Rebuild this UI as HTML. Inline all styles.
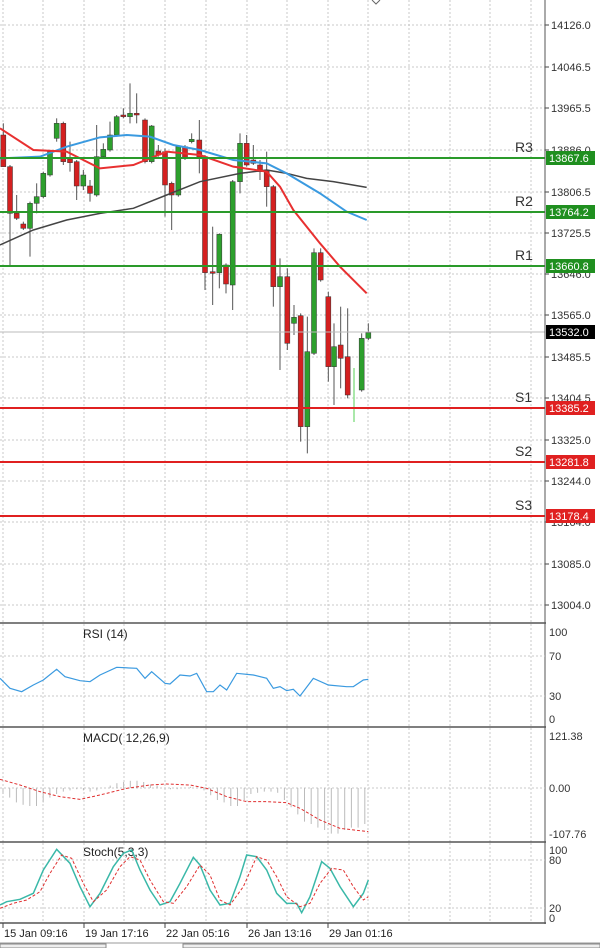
<!DOCTYPE html>
<html><head><meta charset="utf-8"><style>
body{margin:0;background:#fff;width:600px;height:948px;overflow:hidden;font-family:"Liberation Sans",sans-serif}
svg{display:block}
</style></head><body>
<svg id="s" width="600" height="948" xmlns="http://www.w3.org/2000/svg" font-family="Liberation Sans, sans-serif">
</svg>
<script>
const s=document.getElementById('s');let h='';
const L=(x1,y1,x2,y2,c,w,d)=>h+=`<line x1="${x1}" y1="${y1}" x2="${x2}" y2="${y2}" stroke="${c}" stroke-width="${w||1}" ${d?`stroke-dasharray="${d}"`:''}/>`;
const T=(x,y,t,sz,c,a)=>h+=`<text x="${x}" y="${y}" font-size="${sz}" fill="${c||'#222'}" ${a?`text-anchor="${a}"`:''}>${t}</text>`;
// vertical grid
const vx=[3,43,84,124,165,206,247,287,328,368,409,450,490,531];
[[0,623],[624,727],[728,842],[843,923]].forEach(([a,b])=>vx.forEach(x=>L(x,a,x,b,'#c8c8c8',1,'2,2')));
// main horizontal grid
const pl=[[25,'14126.0'],[67,'14046.5'],[108,'13965.5'],[150,'13886.0'],[192,'13806.5'],[233,'13725.5'],[274,'13646.0'],[315,'13565.0'],[357,'13485.5'],[398,'13404.5'],[440,'13325.0'],[481,'13244.0'],[522,'13164.0'],[564,'13085.0'],[605,'13004.0']];
pl.forEach(([y,t])=>{L(0,y,545,y,'#c8c8c8',1,'2,2');L(545,y,549,y,'#444');T(551,y+4,t,11,'#333')});
// candles
const C=[[10,165,260,1,130,260],[30,260,400,1,255,560],[50,400,415,1,345,420],[70,432,445,1,425,450],[90,445,370,0,365,530],[110,370,350,0,310,400],[130,350,280,0,275,355],[150,285,215,0,210,290],[170,175,130,0,115,185],[190,130,245,1,125,255],[210,237,248,1,185,275],[230,245,318,1,240,360],[250,318,285,0,270,330],[270,318,340,1,300,365],[290,345,230,0,135,350],[310,230,208,0,190,235],[330,210,165,0,125,215],[350,165,110,0,105,170],[370,105,110,1,85,115],[390,110,100,0,10,130],[410,100,105,1,40,130],[435,120,245,1,115,250],[455,245,138,0,135,250],[475,213,225,1,195,230],[495,215,315,1,205,410],[515,310,345,1,305,450],[535,345,200,0,195,350],[555,200,235,1,195,240],[575,185,178,0,160,190],[598,180,235,1,120,280],[615,230,578,1,225,630],[638,575,580,1,440,675],[658,578,463,0,460,625],[678,555,612,1,550,640],[698,615,305,0,300,690],[720,305,190,0,160,340],[740,190,255,1,165,260],[760,240,250,1,195,255],[780,255,275,1,240,300],[800,270,320,1,215,380],[820,320,620,1,315,680],[840,620,590,0,535,870],[862,590,790,1,565,810],[882,730,712,0,675,765],[902,707,1040,1,700,1085],[922,1040,815,0,710,1120],[942,820,518,0,505,825],[962,518,600,1,505,605],[985,650,860,1,635,905],[1002,860,800,0,730,975],[1022,795,835,1,680,925],[1043,830,945,1,685,955],[1085,930,775,0,760,935],[1105,775,758,0,730,780]];
C.forEach(([zx,o,c,r,hi,lo])=>{const x=zx/3,y1=80+Math.min(o,c)/3,y2=80+Math.max(o,c)/3;L(x,80+hi/3,x,80+lo/3,'#555');h+=`<rect x="${x-2.5}" y="${y1}" width="5" height="${Math.max(1.5,y2-y1)}" fill="${r?'#d42020':'#2da02d'}" stroke="#333" stroke-width="0.5"/>`});
L(354,368,354,422,'#8ee08e',1.5);
const P=(pts,c,w)=>h+=`<polyline fill="none" stroke="${c}" stroke-width="${w}" points="${pts.map(([a,b])=>(a/3)+','+(80+b/3)).join(' ')}"/>`;
P([[0,495],[100,450],[200,420],[300,400],[400,385],[500,345],[600,305],[720,280],[800,270],[860,280],[920,295],[1000,305],[1100,322]],'#444',1.5);
P([[0,235],[120,230],[200,200],[300,172],[380,165],[450,170],[520,195],[600,210],[700,240],[800,250],[860,280],[960,340],[1040,395],[1100,420]],'#3a9ae0',2);
P([[0,145],[100,210],[200,215],[300,265],[400,255],[450,235],[500,215],[600,225],[700,260],[800,275],[840,320],[880,390],[960,490],[1020,560],[1100,640]],'#e83030',2);
// levels
[[158,'R3','13867.6'],[212,'R2','13764.2'],[266,'R1','13660.8']].forEach(([y,n,v])=>{L(0,y,545,y,'#2a9a2a',2);T(515,y-6,n,14,'#333');h+=`<rect x="546" y="${y-7}" width="49" height="14" fill="#1f8f1f"/>`;T(549,y+4,v,11,'#fff')});
L(0,332,545,332,'#bbb',1);h+=`<rect x="546" y="325" width="49" height="14" fill="#000"/>`;T(549,336,'13532.0',11,'#fff');
[[408,'S1','13385.2'],[462,'S2','13281.8'],[516,'S3','13178.4']].forEach(([y,n,v])=>{L(0,y,545,y,'#e02020',2);T(515,y-6,n,14,'#333');h+=`<rect x="546" y="${y-7}" width="49" height="14" fill="#e02020"/>`;T(549,y+4,v,11,'#fff')});
// panel borders
[623,727,842,923].forEach(y=>L(0,y,546,y,'#555',1.5));
L(545,0,545,924,'#555',1);
// RSI
[[656,'70'],[696,'30']].forEach(([y,t])=>L(0,y,545,y,'#c8c8c8',1,'2,2'));
T(549,636,'100',11,'#333');T(549,660,'70',11,'#333');T(549,700,'30',11,'#333');T(549,723,'0',11,'#333');
T(83,638,'RSI (14)',12,'#222');
const Q=(pts,c,w,d,oy)=>h+=`<polyline fill="none" stroke="${c}" stroke-width="${w}" ${d?`stroke-dasharray="${d}"`:''} points="${pts.map(([a,b])=>(a/3)+','+(oy+b/3)).join(' ')}"/>`;
Q([[0,175],[30,205],[65,215],[100,195],[130,180],[170,148],[195,170],[240,182],[270,185],[300,165],[350,142],[410,145],[435,175],[455,155],[495,190],[510,192],[540,165],[570,168],[590,160],[620,215],[640,215],[660,195],[680,210],[710,160],[760,165],[800,175],[820,205],[840,200],[860,212],[880,208],[900,228],[940,175],[985,195],[1040,200],[1060,200],[1090,180],[1105,178]],'#3a9ae0',1.2,null,620);
// MACD
L(0,788,545,788,'#c8c8c8',1,'2,2');
T(549,740,'121.38',11,'#333');T(549,792,'0.00',11,'#333');T(549,838,'-107.76',11,'#333');
T(83,742,'MACD( 12,26,9)',12,'#222');
const mh=[-5,-8,-12,-14,-15,-15,-12,-8,-5,-3,-2,-1,-2,-3,-2,0,2,4,5,6,6,5,3,2,0,-1,-1,0,1,0,-2,-6,-10,-12,-15,-15,-10,-5,-4,-3,-3,-4,-10,-16,-22,-28,-30,-33,-35,-38,-38,-35,-33,-33,-30];
mh.forEach((v,i)=>{const x=3+i*6.7;L(x,788,x,788-v*1.2,'#bbb',1)});
Q([[0,478],[60,495],[120,515],[180,530],[240,538],[300,525],[380,505],[450,495],[500,492],[570,495],[620,505],[680,530],[740,545],[800,545],[860,548],[900,565],[960,600],[1020,625],[1105,635]],'#e03030',1,'3,2',620);
// Stoch
L(0,860,545,860,'#c8c8c8',1,'2,2');L(0,908,545,908,'#c8c8c8',1,'2,2');
T(549,854,'100',11,'#333');T(549,864,'80',11,'#333');T(549,912,'20',11,'#333');T(549,922,'0',11,'#333');
T(83,856,'Stoch(5,3,3)',12,'#222');
Q([[0,855],[20,845],[60,838],[100,820],[130,750],[170,688],[210,730],[240,800],[270,860],[300,820],[340,740],[370,700],[395,690],[420,750],[450,810],[480,855],[510,845],[540,790],[580,712],[600,735],[630,810],[660,855],[690,850],[720,770],[740,705],[770,710],[800,750],[830,820],[860,850],[890,850],[905,878],[930,830],[965,725],[990,745],[1020,800],[1060,860],[1090,820],[1105,780]],'#3ab8a8',1.5,null,620);
Q([[0,865],[40,850],[80,840],[120,815],[150,760],[185,705],[215,715],[250,790],[280,845],[320,810],[360,740],[390,710],[420,720],[450,780],[490,845],[520,850],[560,800],[600,735],[630,765],[660,840],[690,855],[730,800],[770,710],[800,720],[830,770],[860,830],[900,860],[930,850],[960,790],[995,745],[1030,750],[1060,800],[1090,840],[1105,830]],'#e03030',1,'3,2',620);
// time axis
[[3,'15 Jan 09:16'],[84,'19 Jan 17:16'],[165,'22 Jan 05:16'],[247,'26 Jan 13:16'],[328,'29 Jan 01:16']].forEach(([x,t])=>{L(x,923,x,928,'#444');T(x+1,937,t,11,'#222')});
L(0,943,600,943,'#999',1);
h+=`<rect x="0" y="944" width="106" height="4" fill="#eee" stroke="#888" stroke-width="1"/><rect x="183" y="944" width="417" height="4" fill="#eee" stroke="#888" stroke-width="1"/>`;
h+=`<path d="M372,0 L376,4 L380,0" fill="none" stroke="#666"/>`;
s.innerHTML=h;
</script>
</body></html>
